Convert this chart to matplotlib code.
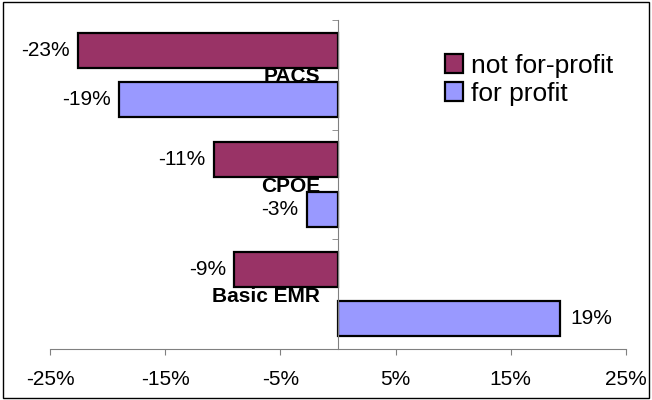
import numpy as np
import matplotlib.pyplot as plt
from matplotlib.patches import Rectangle

categories = ['PACS', 'CPOE', 'Basic EMR']
not_for_profit = [-22.6, -10.8, -9.0]
for_profit = [-19.0, -2.7, 19.3]
xticks = [-25, -15, -5, 5, 15, 25]

plt.rcParams['font.family'] = ['Liberation Sans', 'DejaVu Sans']

fig = plt.figure(figsize=(6.52, 4.0), dpi=100)
ax = fig.add_axes([50 / 652, 1 - 349 / 400, 576 / 652, 329 / 400])

# spine moved first, it resets the ticks
ax.spines['top'].set_visible(False)
ax.spines['right'].set_visible(False)
ax.spines['left'].set_position(('data', 0))
ax.spines['left'].set_color('#808080')
ax.spines['bottom'].set_color('#808080')
ax.spines['left'].set_zorder(4)

y = np.arange(len(categories))
h = 0.32
off = 0.225
b1 = ax.barh(y - off, not_for_profit, height=h, color='#993366',
             edgecolor='black', linewidth=1.6, label='not for-profit', zorder=3)
b2 = ax.barh(y + off, for_profit, height=h, color='#9999FF',
             edgecolor='black', linewidth=1.6, label='for profit', zorder=3)

for bars, vals in [(b1, not_for_profit), (b2, for_profit)]:
    for bar, v in zip(bars, vals):
        cy = bar.get_y() + bar.get_height() / 2
        txt = '%d%%' % round(v)
        if v < 0:
            ax.annotate(txt, (v, cy), xytext=(-6, 0), textcoords='offset points',
                        ha='right', va='center', fontsize=15)
        else:
            ax.annotate(txt, (v, cy), xytext=(7, 0), textcoords='offset points',
                        ha='left', va='center', fontsize=15)

ax.set_xlim(-25, 25)
ax.set_ylim(2.5, -0.5)
ax.set_xticks(xticks)
ax.set_xticklabels(['%d%%' % t for t in xticks], fontsize=15)
ax.set_yticks(y)
ax.set_yticklabels(categories, fontsize=15, fontweight='bold')
ax.set_yticks([-0.5, 0.5, 1.5, 2.5], minor=True)

ax.tick_params(axis='x', direction='out', length=4, color='#808080', pad=11)
ax.tick_params(axis='y', which='major', length=0, pad=13)
ax.tick_params(axis='y', which='minor', direction='out', length=4, color='#808080')

ax.legend(loc='upper left', bbox_to_anchor=(0.667, 0.93), frameon=False,
          fontsize=19, handlelength=0.7, handleheight=0.7, handletextpad=0.3,
          labelspacing=0.15, borderaxespad=0)

fig.patches.append(Rectangle((0.004, 0.005), 0.992, 0.99, transform=fig.transFigure,
                             fill=False, edgecolor='black', linewidth=1))

plt.savefig('out.png', dpi=100)
